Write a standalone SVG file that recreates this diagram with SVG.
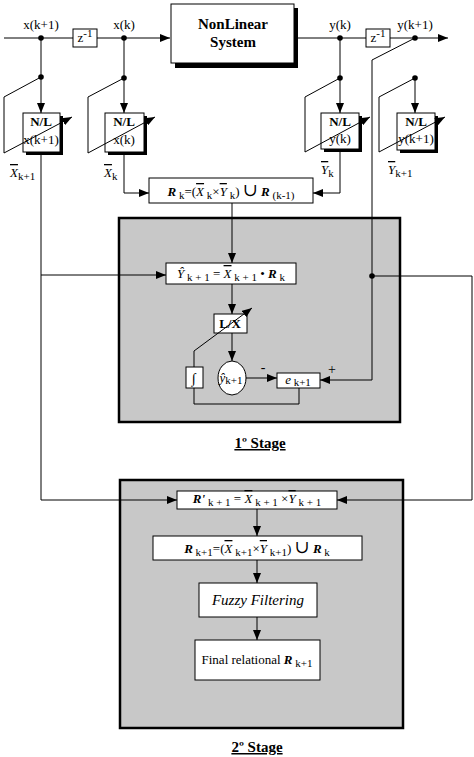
<svg xmlns="http://www.w3.org/2000/svg" width="474" height="757" viewBox="0 0 474 757" font-family="'Liberation Serif','DejaVu Serif',serif">
<style>
.ln{stroke:#000;stroke-width:1;fill:none}
.box{fill:#fff;stroke:#000;stroke-width:1}
.sh{fill:#000}
.stage{fill:#c8c8c8;stroke:#000;stroke-width:2.5}
text{font-family:'Liberation Serif','DejaVu Serif',serif;font-size:12px;fill:#000}
.b{font-weight:bold}
.i{font-style:italic}
.bi{font-weight:bold;font-style:italic}
.ov{text-decoration:overline}
.s{font-size:11px}
.m{text-anchor:middle}
</style>
<defs>
<marker id="a" markerWidth="10" markerHeight="8" refX="10" refY="4" orient="auto" markerUnits="userSpaceOnUse"><path d="M0,0 L10,4 L0,8 z" fill="#000"/></marker>
</defs>
<rect width="474" height="757" fill="#fff"/>
<g id="stage1">
<rect class="stage" x="119" y="218" width="281" height="204"/>
<text class="b m" x="260" y="448" style="font-size:15px;text-decoration:underline">1º Stage</text>
</g>
<g id="stage2">
<rect class="stage" x="120" y="480" width="283" height="248"/>
<text class="b m" x="257" y="752" style="font-size:15px;text-decoration:underline">2º Stage</text>
</g>
<g id="labels">
<text class="m" x="41" y="29" style="font-size:13px">x(k+1)</text>
<text class="m" x="124" y="29" style="font-size:13px">x(k)</text>
<text class="m" x="340" y="29" style="font-size:13px">y(k)</text>
<text class="m" x="415" y="29" style="font-size:13px">y(k+1)</text>
<text x="10" y="177" style="font-size:13px"><tspan class="i ov">X</tspan><tspan class="s" dy="3">k+1</tspan></text>
<text x="104" y="177" style="font-size:13px"><tspan class="i ov">X</tspan><tspan class="s" dy="3">k</tspan></text>
<text x="321" y="174" style="font-size:13px"><tspan class="i ov">Y</tspan><tspan class="s" dy="3">k</tspan></text>
<text x="388" y="174" style="font-size:13px"><tspan class="i ov">Y</tspan><tspan class="s" dy="3">k+1</tspan></text>
<text class="m" x="263" y="372" style="font-size:14px">-</text>
<text class="m" x="332" y="374" style="font-size:14px">+</text>
</g>
<g id="z1">
<rect class="box" x="73" y="29" width="24" height="18"/>
<text class="m" x="85" y="42" style="font-size:13px">z<tspan class="s" dy="-5">-1</tspan></text>
</g>
<g id="z2">
<rect class="box" x="366" y="29" width="24" height="18"/>
<text class="m" x="378" y="42" style="font-size:13px">z<tspan class="s" dy="-5">-1</tspan></text>
</g>
<g id="nonlinear">
<rect class="sh" x="175" y="8" width="123" height="60"/>
<rect class="box" x="171" y="4" width="123" height="59"/>
<text class="b m" x="233" y="29" style="font-size:15px">NonLinear</text>
<text class="b m" x="233" y="47" style="font-size:15px">System</text>
</g>
<g id="nl1">
<rect class="sh" x="26" y="116" width="37" height="39"/>
<rect class="box" x="23" y="113" width="37" height="39"/>
<text class="b m" x="41" y="126" style="font-size:13px">N/L</text>
<text class="m" x="41" y="144" style="font-size:13px">x(k+1)</text>
</g>
<g id="nl2">
<rect class="sh" x="108" y="116" width="39" height="39"/>
<rect class="box" x="105" y="113" width="39" height="39"/>
<text class="b m" x="124" y="126" style="font-size:13px">N/L</text>
<text class="m" x="124" y="144" style="font-size:13px">x(k)</text>
</g>
<g id="nl3">
<rect class="sh" x="324" y="116" width="38" height="36"/>
<rect class="box" x="321" y="113" width="38" height="36"/>
<text class="b m" x="340" y="126" style="font-size:13px">N/L</text>
<text class="m" x="340" y="143" style="font-size:13px">y(k)</text>
</g>
<g id="nl4">
<rect class="sh" x="400" y="116" width="38" height="37"/>
<rect class="box" x="397" y="113" width="38" height="37"/>
<text class="b m" x="416" y="126" style="font-size:13px">N/L</text>
<text class="m" x="416" y="143" style="font-size:13px">y(k+1)</text>
</g>
<g id="rk">
<rect class="box" x="149" y="178" width="164" height="25"/>
<text class="m" x="231" y="196" style="font-size:13px"><tspan class="bi">R</tspan><tspan class="s" dy="3"> k</tspan><tspan dy="-3">=(</tspan><tspan class="i ov">X</tspan><tspan class="s" dy="3"> k</tspan><tspan dy="-3">×</tspan><tspan class="i ov">Y</tspan><tspan class="s" dy="3"> k</tspan><tspan dy="-3">) </tspan><tspan style="font-size:18px">∪</tspan><tspan class="bi"> R</tspan><tspan class="s" dy="3"> (k-1)</tspan></text>
</g>
<g id="yhat">
<rect class="box" x="166" y="263" width="130" height="21"/>
<text class="m" x="231" y="278" style="font-size:13px"><tspan class="i">Ŷ</tspan><tspan class="s" dy="3"> k + 1</tspan><tspan dy="-3"> = </tspan><tspan class="i ov">X</tspan><tspan class="s" dy="3"> k + 1</tspan><tspan dy="-3"> • </tspan><tspan class="bi">R</tspan><tspan class="s" dy="3"> k</tspan></text>
</g>
<g id="lx">
<rect class="box" x="214" y="314" width="33" height="19"/>
<text class="b m" x="230" y="328" style="font-size:13px">L/X</text>
</g>
<g id="integ">
<rect class="box" x="186" y="367" width="17" height="21"/>
<text class="i m" x="194" y="383" style="font-size:14px">∫</text>
</g>
<g id="yk1">
<ellipse class="box" cx="232" cy="378" rx="14" ry="17"/>
<text class="m" x="231" y="382" style="font-size:13px"><tspan class="i">ŷ</tspan><tspan class="s" dy="2">k+1</tspan></text>
</g>
<g id="ek1">
<rect class="box" x="277" y="373" width="43" height="15"/>
<text class="m" x="298" y="384" style="font-size:13px"><tspan class="i">e</tspan><tspan class="s" dy="2"> k+1</tspan></text>
</g>
<g id="rprime">
<rect class="box" x="177" y="491" width="160" height="18"/>
<text class="m" x="257" y="503" style="font-size:13px"><tspan class="bi">R'</tspan><tspan class="s" dy="3"> k + 1</tspan><tspan dy="-3"> = </tspan><tspan class="i ov">X</tspan><tspan class="s" dy="3"> k + 1</tspan><tspan dy="-3"> ×</tspan><tspan class="i ov">Y</tspan><tspan class="s" dy="3"> k + 1</tspan></text>
</g>
<g id="rk1">
<rect class="box" x="153" y="536" width="209" height="24"/>
<text class="m" x="257" y="553" style="font-size:13px"><tspan class="bi">R</tspan><tspan class="s" dy="3"> k+1</tspan><tspan dy="-3">=(</tspan><tspan class="i ov">X</tspan><tspan class="s" dy="3"> k+1</tspan><tspan dy="-3">×</tspan><tspan class="i ov">Y</tspan><tspan class="s" dy="3"> k+1</tspan><tspan dy="-3">) </tspan><tspan style="font-size:18px">∪</tspan><tspan class="bi"> R</tspan><tspan class="s" dy="3"> k</tspan></text>
</g>
<g id="fuzzy">
<rect class="box" x="199" y="583" width="118" height="34"/>
<text class="i m" x="258" y="605" style="font-size:15px">Fuzzy Filtering</text>
</g>
<g id="final">
<rect class="box" x="195" y="640" width="125" height="40"/>
<text class="m" x="257" y="664" style="font-size:13px">Final relational <tspan class="bi">R</tspan><tspan class="s" dy="3"> k+1</tspan></text>
</g>
<g id="connectors">
<path class="ln" d="M4,38 H73"/>
<path class="ln" d="M97,38 H170" marker-end="url(#a)"/>
<path class="ln" d="M294,38 H366"/>
<path class="ln" d="M390,38 H448" marker-end="url(#a)"/>
<path class="ln" d="M41,38 V113" marker-end="url(#a)"/>
<path class="ln" d="M124,38 V113" marker-end="url(#a)"/>
<path class="ln" d="M340,38 V113" marker-end="url(#a)"/>
<path class="ln" d="M415,78 V113" marker-end="url(#a)"/>
<path class="ln" d="M41,77 L4,97 V153 L72,117" marker-end="url(#a)"/>
<path class="ln" d="M124,78 L88,97 V153 L155,117" marker-end="url(#a)"/>
<path class="ln" d="M340,78 L305,97 V152 L370,117" marker-end="url(#a)"/>
<path class="ln" d="M415,78 L379,97 V152 L445,117" marker-end="url(#a)"/>
<path class="ln" d="M41,152 V500 H177" marker-end="url(#a)"/>
<path class="ln" d="M41,275 H166" marker-end="url(#a)"/>
<path class="ln" d="M124,152 V193 H149" marker-end="url(#a)"/>
<path class="ln" d="M340,149 V193 H313" marker-end="url(#a)"/>
<path class="ln" d="M415,38 L372,60 V380 H320" marker-end="url(#a)"/>
<path class="ln" d="M372,276 H472 V500 H337" marker-end="url(#a)"/>
<path class="ln" d="M232,203 V263" marker-end="url(#a)"/>
<path class="ln" d="M232,284 V314" marker-end="url(#a)"/>
<path class="ln" d="M232,333 V361" marker-end="url(#a)"/>
<path class="ln" d="M246,378 H277" marker-end="url(#a)"/>
<path class="ln" d="M194,367 V351 L252,308" marker-end="url(#a)"/>
<path class="ln" d="M194,388 V404 H299 V388"/>
<path class="ln" d="M257,509 V536" marker-end="url(#a)"/>
<path class="ln" d="M257,560 V583" marker-end="url(#a)"/>
<path class="ln" d="M257,617 V640" marker-end="url(#a)"/>
<g fill="#000">
<circle cx="41" cy="38" r="2.8"/><circle cx="124" cy="38" r="2.8"/><circle cx="340" cy="38" r="2.8"/><circle cx="415" cy="38" r="2.8"/>
<circle cx="41" cy="77" r="2.8"/><circle cx="124" cy="78" r="2.8"/><circle cx="340" cy="78" r="2.8"/><circle cx="415" cy="78" r="2.8"/>
<circle cx="372" cy="276" r="2.8"/>
</g>
</g>
</svg>
